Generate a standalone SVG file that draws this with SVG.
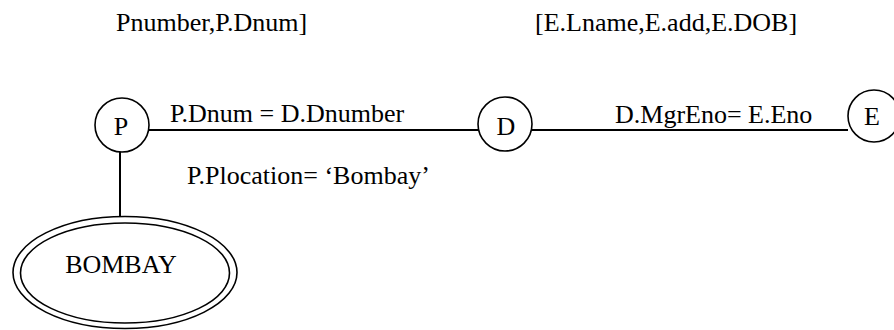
<svg xmlns="http://www.w3.org/2000/svg" width="894" height="330" viewBox="0 0 894 330">
  <style>
    .lbl { font-family: 'Liberation Serif', 'DejaVu Serif', serif; font-size: 26px; fill: #000; }
    .node { fill: #fff; stroke: #000; stroke-width: 1.6; }
    .edge { stroke: #000; stroke-width: 2; fill: none; }
    .mid { text-anchor: middle; }
  </style>
  <rect width="894" height="330" fill="#fff"/>

  <!-- projection lists -->
  <text class="lbl" x="116" y="31">Pnumber,P.Dnum]</text>
  <text class="lbl" x="535" y="31">[E.Lname,E.add,E.DOB]</text>

  <!-- connectors and join/selection conditions -->
  <g id="connectors">
    <line class="edge" x1="148" y1="130" x2="479" y2="130"/>
    <line class="edge" x1="531" y1="130" x2="848" y2="130"/>
    <line class="edge" x1="120" y1="152" x2="120" y2="216"/>
    <text class="lbl" x="170" y="122">P.Dnum = D.Dnumber</text>
    <text class="lbl" x="615" y="123">D.MgrEno= E.Eno</text>
    <text class="lbl" x="187" y="184">P.Plocation= ‘Bombay’</text>
  </g>

  <g id="node-P">
    <circle class="node" cx="122" cy="125" r="27"/>
    <text class="lbl mid" x="121" y="135">P</text>
  </g>

  <g id="node-D">
    <circle class="node" cx="505" cy="124" r="27"/>
    <text class="lbl mid" x="506" y="135">D</text>
  </g>

  <g id="node-E">
    <circle class="node" cx="874" cy="116" r="26"/>
    <text class="lbl mid" x="872" y="125">E</text>
  </g>

  <g id="node-BOMBAY">
    <ellipse class="node" cx="125" cy="272.5" rx="112" ry="56"/>
    <ellipse class="node" cx="125" cy="273" rx="104.5" ry="50"/>
    <text class="lbl mid" x="121" y="273">BOMBAY</text>
  </g>
</svg>
